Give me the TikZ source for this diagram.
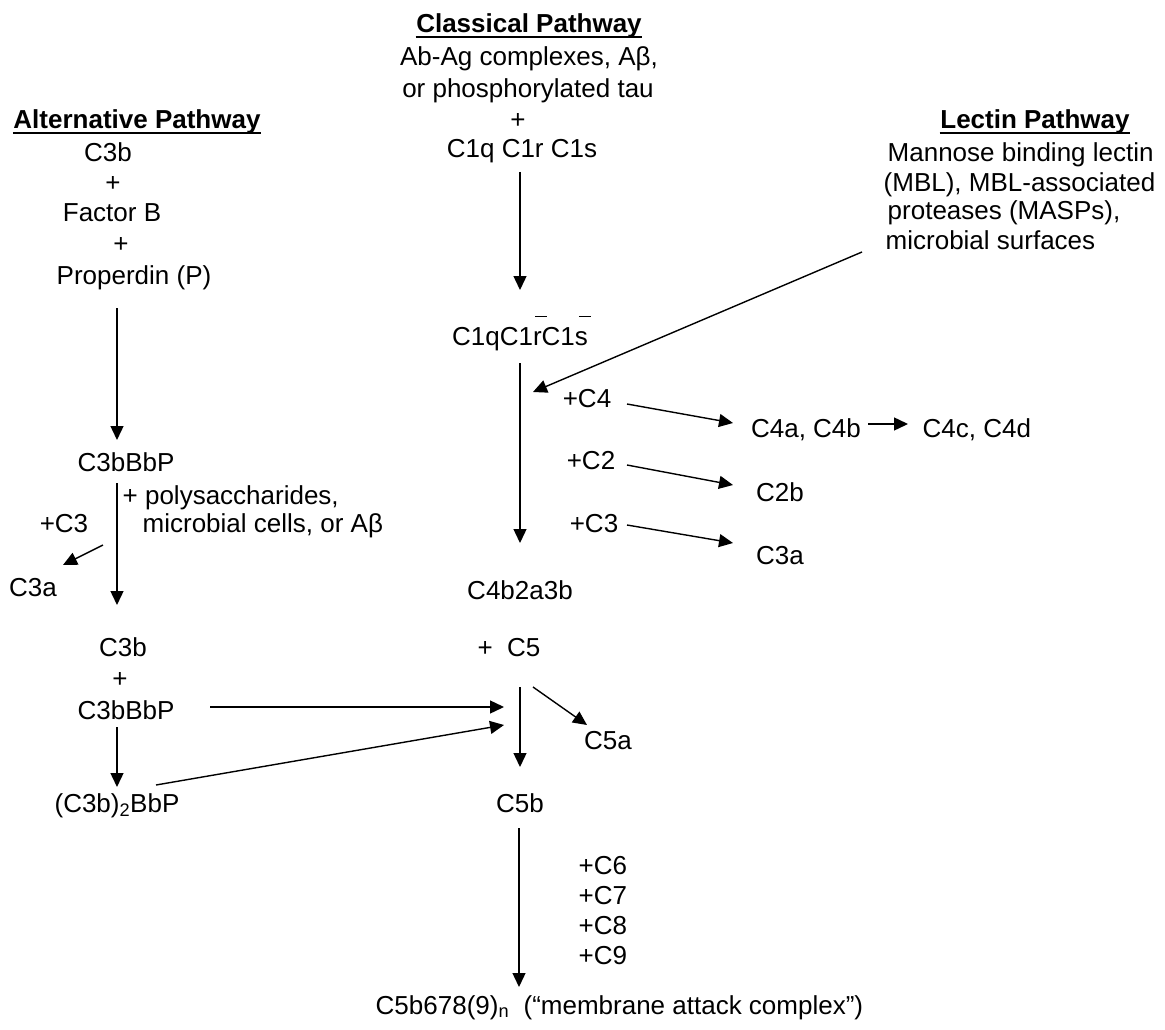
\documentclass[tikz,border=0pt]{standalone}
\usepackage{fontspec}
\setmainfont{Liberation Sans}
\usetikzlibrary{arrows.meta}
\newcommand{\fs}{\fontsize{26}{30}\selectfont}
\newcommand{\barred}[2]{\rlap{\kern#1\rule[28pt]{12pt}{1.3pt}}#2}
\tikzset{
  ttl/.style={font=\fs\bfseries},
  ul/.style={-, line width=1.8pt},
  lft/.style={anchor=base west},
}

\begin{document}
\begin{tikzpicture}[x=1pt, y=-1pt, ->, >={Triangle[length=14pt,width=13pt]}, line width=1.4pt,
  every node/.style={inner sep=0pt, anchor=base}, font=\fs]
\useasboundingbox (0,0) rectangle (1165,1030);

    % alternative pathway
    \node[ttl] (alt) at (137,129) {Alternative Pathway};
    \node (a0) at (108,161) {C3b};
    \node (a1) at (113,191) {+};
    \node (a2) at (112,222) {Factor B};
    \node (a3) at (121,252) {+};
    \node (a4) at (134,284) {Properdin (P)};
    \node (a5) at (126,471) {C3bBbP};
    \node[lft] (a6) at (122,504) {+ polysaccharides,};
    \node[lft] (a7) at (142,532) {microbial cells, or Aβ};
    \node (a8) at (64,532) {+C3};
    \node (a9) at (33,596) {C3a};
    \node (a10) at (123,656) {C3b};
    \node (a11) at (120,687) {+};
    \node (a12) at (126,719) {C3bBbP};
    \node (a13) at (117,812) {(C3b)\textsubscript{2}BbP};

    % classical pathway
    \node[ttl] (cls) at (529,33) {Classical Pathway};
    \node (c0) at (529,66) {Ab-Ag complexes, Aβ,};
    \node (c1) at (528,98) {or phosphorylated tau};
    \node (c2) at (518,129) {+};
    \node (c3) at (522,158) {C1q C1r C1s};
    \node (c4) at (520,345) {C1qC1\barred{2pt}{r}C1\barred{4pt}{s}};
    \node (c5) at (587,407) {+C4};
    \node (c6) at (806,437) {C4a, C4b};
    \node[lft] (c7) at (922,437) {C4c, C4d};
    \node (c8) at (591,469) {+C2};
    \node (c9) at (780,501) {C2b};
    \node (c10) at (594,532) {+C3};
    \node (c11) at (780,564) {C3a};
    \node (c12) at (520,599) {C4b2a3b};
    \node (c13) at (509,656) {+\ \ C5};
    \node (c14) at (608,749) {C5a};
    \node (c15) at (520,812) {C5b};
    \foreach \n [count=\i from 0] in {6,7,8,9}
        \node[lft] (add\n) at (578,874+30*\i) {+C\n};
    \node[lft] (mac) at (375,1014) {C5b678(9)\textsubscript{n}\ \ (“membrane attack complex”)};

    % lectin pathway
    \node[ttl] (lec) at (1035,129) {Lectin Pathway};
    \node[lft] (l0) at (887,161) {Mannose binding lectin};
    \node[lft] (l1) at (883,191) {(MBL), MBL-associated};
    \node[lft] (l2) at (887,219) {proteases (MASPs),};
    \node[lft] (l3) at (885,249) {microbial surfaces};

    \draw[ul] ([yshift=-4pt]alt.base west) -- ([yshift=-4pt]alt.base east);
    \draw[ul] ([yshift=-4pt]cls.base west) -- ([yshift=-4pt]cls.base east);
    \draw[ul] ([yshift=-4pt]lec.base west) -- ([yshift=-4pt]lec.base east);

    % arrow ends
    \coordinate (p0) at (117,308);  \coordinate (p1) at (117,440);
    \coordinate (p2) at (117,483);  \coordinate (p3) at (117,605);
    \coordinate (p4) at (103,545);  \coordinate (p5) at (63,565);
    \coordinate (p6) at (117,727);  \coordinate (p7) at (117,787);
    \coordinate (p8) at (210,707);  \coordinate (p9) at (504,707);
    \coordinate (p10) at (156,785); \coordinate (p11) at (504,725);
    \coordinate (q0) at (520,172);  \coordinate (q1) at (520,290);
    \coordinate (q2) at (520,363);  \coordinate (q3) at (520,543);
    \coordinate (q4) at (862,252);  \coordinate (q5) at (533,392);
    \coordinate (q6) at (627,404);  \coordinate (q7) at (733,423);
    \coordinate (q8) at (868,424);  \coordinate (q9) at (908,424);
    \coordinate (q10) at (627,465); \coordinate (q11) at (733,485);
    \coordinate (q12) at (627,525); \coordinate (q13) at (733,543);
    \coordinate (q14) at (520,687); \coordinate (q15) at (520,767);
    \coordinate (q16) at (533,687); \coordinate (q17) at (587,725);
    \coordinate (q18) at (519,828); \coordinate (q19) at (519,987);

    \draw (p0) -- (p1);
    \draw (p2) -- (p3);
    \draw (p4) -- (p5);
    \draw (p6) -- (p7);
    \draw (p8) -- (p9);
    \draw (p10) -- (p11);
    \draw (q0) -- (q1);
    \draw (q2) -- (q3);
    \draw (q4) -- (q5);
    \draw (q6) -- (q7);
    \draw (q8) -- (q9);
    \draw (q10) -- (q11);
    \draw (q12) -- (q13);
    \draw (q14) -- (q15);
    \draw (q16) -- (q17);
    \draw (q18) -- (q19);

\end{tikzpicture}
\end{document}
